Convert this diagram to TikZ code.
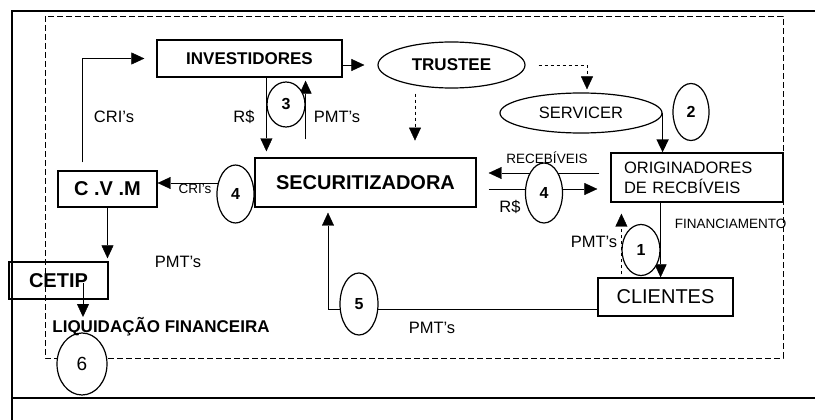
\documentclass[tikz,border=0pt]{standalone}
\usepackage{fontspec}
\setmainfont{Liberation Sans}
\usetikzlibrary{arrows.meta,positioning,calc,shapes.geometric,backgrounds}

\begin{document}
\begin{tikzpicture}[x=1pt,y=-1pt,line width=1.2pt,
 box/.style={draw,line width=1.3pt,inner sep=0pt},
 oval/.style={draw,ellipse,inner sep=0pt,fill=white},
 num/.style={oval,font=\fontsize{16}{18}\selectfont\bfseries},
 arr/.style={-{Triangle[length=13pt,width=12pt]}},
 hd/.style={font=\fontsize{17}{20}\selectfont\bfseries},
 hdbig/.style={font=\fontsize{20}{24}\selectfont\bfseries},
 lb/.style={font=\fontsize{16.5}{20}\selectfont},
 lbsm/.style={font=\fontsize{13.5}{15}\selectfont}]
\useasboundingbox (0,0) rectangle (815,420);
% boxes
\node[box,hd,minimum width=185pt,minimum height=37pt] (inv) at (249.5,58.5) {INVESTIDORES};
\node[box,hdbig,minimum width=221pt,minimum height=49pt] (sec) at (365.5,182.5) {SECURITIZADORA};
\node[box,hdbig,minimum width=99pt,minimum height=36pt] (cvm) at (107.5,189) {C .V .M};
\node[box,hdbig,minimum width=99pt,minimum height=37pt] (cetip) at (58.5,280.5) {CETIP};
\node[box,lb,minimum width=172pt,minimum height=49pt,text width=146pt,align=left] (orig) at (697,177.5) {ORIGINADORES\\DE RECBÍVEIS};
\node[box,font=\fontsize{20}{24}\selectfont,minimum width=135pt,minimum height=38pt] (cli) at (665.5,297) {CLIENTES};
\node[oval,hd,minimum width=147pt,minimum height=46pt] (trustee) at (451.5,65) {TRUSTEE};
\node[oval,lb,minimum width=162pt,minimum height=40pt] (servicer) at (581,113) {SERVICER};
% steps
\foreach \nm/\x/\y/\w/\h/\t in {c1/641/250/38/51/1,c2/691/112/36/57/2,c3/286/104.5/38/45/3,c4a/235.5/194/37/58/4,c4b/544/193/37/60/4,c5/359/304/38/62/5}
 \node[num,minimum width=\w pt,minimum height=\h pt] (\nm) at (\x,\y) {\t};
\node[oval,font=\fontsize{19}{22}\selectfont,minimum width=50pt,minimum height=62pt] (c6) at (82,364) {6};
% labels
\node[lb] (criA) at (114,117) {CRI's};
\node[lb] (rsA) at (244,117) {R\$};
\node[lb] (pmtA) at (337,117) {PMT's};
\node[lbsm] (criB) at (195,189) {CRI's};
\node[lbsm] (rec) at (547,158) {RECEBÍVEIS};
\node[lb] (rsB) at (510,207) {R\$};
\node[lb] (pmtB) at (178,262) {PMT's};
\node[lbsm,anchor=west] (fin) at (671,224) {FINANCIAMENTO};
\node[lb] (pmtC) at (594,242) {PMT's};
\node[lb] (pmtD) at (432,328) {PMT's};
\node[hd,inner sep=1pt] (liq) at (161,327) {LIQUIDAÇÃO FINANCEIRA};
\begin{scope}[on background layer]
\draw[line width=1.4pt] (815,11) -- (12,11) -- (12,420) (12,398) -- (815,398);
\draw[dash pattern=on 6pt off 3pt] (45,16) rectangle (783,358);
\draw[arr,shorten >=12pt] ([xshift=-25.5pt,yshift=8pt]cvm.north) |- (inv.west);
\draw[arr,shorten >=13pt] (inv.east |- trustee.west) -- (trustee.west);
\draw[arr,dashed,shorten <=13pt,shorten >=3pt] (trustee.east) -| ([xshift=6pt]servicer.north);
\draw[arr,dashed] ([shift={(-36.5pt,-5pt)}]trustee.south) -- ++(0,47);
\draw[arr,line width=1.7pt] (servicer.east) -- (servicer.east |- orig.north);
\draw[arr,shorten <=11pt,shorten >=12pt] ($(orig.west)+(0,-4.5)$) -- ($(orig.west -| sec.east)+(0,-4.5)$);
\draw[arr,shorten <=12pt,shorten >=13pt] ($(sec.east)+(0,6.5)$) -- ($(sec.east -| orig.west)+(0,6.5)$);
\draw[arr,shorten >=6pt] (inv.south -| c3.west) -- (c3.west |- sec.north);
\draw[arr,shorten >=3pt] ($(sec.north -| c3.east)+(0,-18)$) -- (c3.east |- inv.south);
\draw[arr] ($(c4a.center)+(0,-11)$) -- ($(cvm.east)+(0,-6)$);
\draw[arr,shorten >=3pt] (cvm.south) -- (cvm.south |- cetip.north);
\draw[arr] ($(cetip.center)+(24.5,2.5)$) -- ++(0,34);
\draw[arr] (orig.south -| c1.east) -- (c1.east |- cli.north);
\draw[arr,dashed] ($(cli.north -| c1.west)+(0,-3)$) -- ($(orig.south -| c1.west)+(0,11)$);
\draw[arr,shorten >=5pt] ($(cli.west)+(0,12.5)$) -| ($(sec.south)+(-37.5,0)$);
\end{scope}
\end{tikzpicture}
\end{document}
